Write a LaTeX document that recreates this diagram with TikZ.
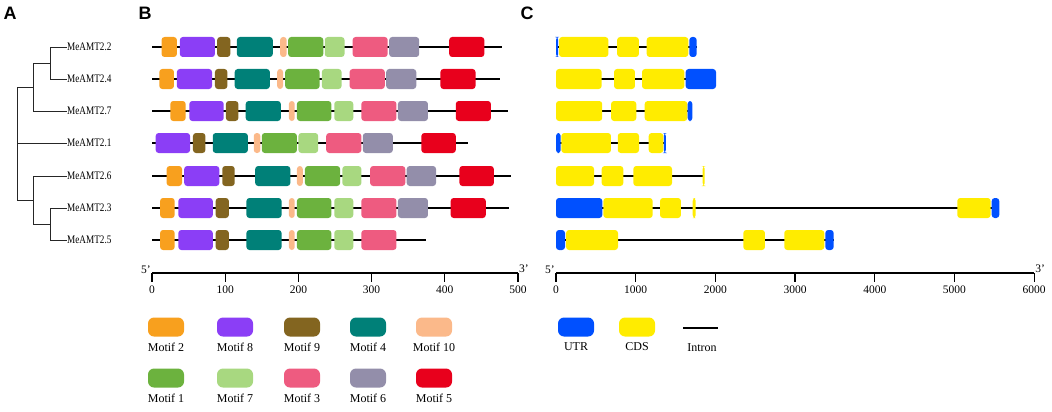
\documentclass[tikz,border=0pt]{standalone}
\usepackage{fontspec}
\setmainfont{Liberation Serif}
\setsansfont{Liberation Sans}
\usetikzlibrary{positioning}

\definecolor{mtwo}{HTML}{F8A01E}
\definecolor{meight}{HTML}{8B3EF6}
\definecolor{mnine}{HTML}{836520}
\definecolor{mfour}{HTML}{008078}
\definecolor{mten}{HTML}{FBB98A}
\definecolor{mone}{HTML}{6CB23E}
\definecolor{mseven}{HTML}{A8D880}
\definecolor{mthree}{HTML}{EE5B80}
\definecolor{msix}{HTML}{938EAA}
\definecolor{mfive}{HTML}{E8001C}
\definecolor{utr}{HTML}{0050FF}
\definecolor{cds}{HTML}{FFEC00}

% one row of boxes: y, list of start/end/colour
\newcommand{\boxrow}[2]{%
  \foreach \s/\e/\c in {#2}
    \fill[\c,rounded corners=3pt] (\s,#1-10) rectangle (\e,#1+10);}
% narrow gene names
\newcommand{\gname}[1]{\scalebox{0.8}[1]{#1}}

\begin{document}
\begin{tikzpicture}
  [x=1pt,y=-1pt,
   gene/.style={anchor=west,inner sep=0pt,font=\fontsize{11.5}{13}\selectfont},
   branch/.style={draw=black!85,line width=0.9pt},
   backbone/.style={line width=1.6pt},
   legbox/.style={minimum width=36pt,minimum height=19pt,rounded corners=6pt,inner sep=0pt},
   leglabel/.style={font=\fontsize{12}{14}\selectfont,inner sep=1pt},
   tick/.style={font=\fontsize{11.5}{13}\selectfont,inner sep=1pt},
   panel/.style={font=\sffamily\bfseries\fontsize{18}{20}\selectfont,inner sep=0pt}]
  \useasboundingbox (0,0) rectangle (1052,412);

  \node[panel] (A) at (10,13) {A};
  \node[panel] (B) at (145,13) {B};
  \node[panel] (C) at (527,13) {C};

  % tree
  \node[gene] (g22) at (67,47)  {\gname{MeAMT2.2}};
  \node[gene] (g24) at (67,79)  {\gname{MeAMT2.4}};
  \node[gene] (g27) at (67,111) {\gname{MeAMT2.7}};
  \node[gene] (g21) at (67,143) {\gname{MeAMT2.1}};
  \node[gene] (g26) at (67,176) {\gname{MeAMT2.6}};
  \node[gene] (g23) at (67,208) {\gname{MeAMT2.3}};
  \node[gene] (g25) at (67,240) {\gname{MeAMT2.5}};

  \coordinate (n1) at (50,63);
  \coordinate (n2) at (33,87);
  \coordinate (n3) at (50,224);
  \coordinate (n4) at (33,200);
  \coordinate (root) at (17,143);

  \foreach \from/\to in {n1/g22.west,n1/g24.west,n2/n1,n2/g27.west,root/n2,root/g21.west,
                         root/n4,n4/g26.west,n4/n3,n3/g23.west,n3/g25.west}
    \draw[branch] (\from) |- (\to);

  % motifs
  \begin{scope}[shift={(152,0)},x=0.732pt]
    \foreach \y/\len in {47/478,79/475,111/487,143/432,176/491,208/488,240/374}
      \draw[backbone] (0,\y) -- (\len,\y);
    \boxrow{47}{13/34/mtwo,38/86/meight,89/107/mnine,116/165/mfour,175/184/mten,186/234/mone,236/263/mseven,274/322/mthree,324/365/msix,406/454/mfive}
    \boxrow{79}{10/30/mtwo,34/82/meight,86/103/mnine,113/161/mfour,171/179/mten,182/229/mone,232/259/mseven,270/318/mthree,320/361/msix,394/442/mfive}
    \boxrow{111}{25/46/mtwo,51/98/meight,101/118/mnine,128/176/mfour,187/195/mten,198/245/mone,249/275/mseven,286/334/mthree,336/377/msix,415/463/mfive}
    \boxrow{143}{5/52/meight,56/73/mnine,83/131/mfour,139/148/mten,150/198/mone,200/227/mseven,238/286/mthree,288/329/msix,368/415/mfive}
    \boxrow{176}{20/41/mtwo,44/92/meight,96/113/mnine,141/189/mfour,198/206/mten,209/257/mone,260/286/mseven,298/346/mthree,348/388/msix,420/467/mfive}
    \boxrow{208}{11/31/mtwo,36/83/meight,87/105/mnine,129/177/mfour,187/195/mten,198/245/mone,249/275/mseven,286/334/mthree,336/377/msix,408/456/mfive}
    \boxrow{240}{11/31/mtwo,36/83/meight,87/105/mnine,129/177/mfour,187/195/mten,198/245/mone,249/275/mseven,286/334/mthree}

    \draw[line width=1.3pt] (0,273) -- (500,273);
    \foreach \t in {0,100,...,500}
      \draw[line width=1.3pt] (\t,273) -- (\t,282) node[tick,below=2pt] {\t};
    \node[tick,anchor=south east] (p5) at (0,275) {5'};
    \node[tick,anchor=south west] (p3) at (500,274) {3'};
  \end{scope}

  % gene structure
  \begin{scope}[shift={(556,0)},x=0.0797pt]
    \foreach \y/\len in {47/1765,79/2008,111/1710,143/1375,176/1862,208/5562,240/3484}
      \draw[backbone] (0,\y) -- (\len,\y);
    \boxrow{47}{0/28/utr,38/657/cds,767/1040/cds,1138/1660/cds,1673/1765/utr}
    \boxrow{79}{0/573/cds,728/991/cds,1079/1610/cds,1627/2008/utr}
    \boxrow{111}{0/580/cds,691/1008/cds,1113/1648/cds,1652/1712/utr}
    \boxrow{143}{0/59/utr,67/690/cds,775/1042/cds,1163/1347/cds,1352/1378/utr}
    \boxrow{176}{0/477/cds,573/845/cds,970/1456/cds,1840/1866/cds}
    \boxrow{208}{0/581/utr,594/1213/cds,1305/1568/cds,1715/1753/cds,5035/5454/cds,5467/5562/utr}
    \boxrow{240}{0/113/utr,126/778/cds,2350/2622/cds,2864/3366/cds,3379/3484/utr}

    \draw[line width=1.3pt] (0,273) -- (6000,273);
    \foreach \t in {0,1000,...,6000}
      \draw[line width=1.3pt] (\t,273) -- (\t,282) node[tick,below=2pt] {\t};
    \node[tick,anchor=south east] (q5) at (0,275) {5'};
    \node[tick,anchor=south west] (q3) at (6000,274) {3'};
  \end{scope}

  % legends
  \foreach \x/\c/\n in {166/mtwo/2,235/meight/8,302/mnine/9,368/mfour/4,434/mten/10}{
    \node[legbox,fill=\c] (m\n) at (\x,327) {};
    \node[leglabel,below=5pt of m\n] {Motif \n};
  }
  \foreach \x/\c/\n in {166/mone/1,235/mseven/7,302/mthree/3,368/msix/6,434/mfive/5}{
    \node[legbox,fill=\c] (m\n) at (\x,378) {};
    \node[leglabel,below=5pt of m\n] {Motif \n};
  }

  \node[legbox,fill=utr] (lutr) at (576,327) {};
  \node[leglabel,below=5pt of lutr] {UTR};
  \node[legbox,fill=cds] (lcds) at (637,327) {};
  \node[leglabel,below=5pt of lcds] {CDS};
  \coordinate (ia) at (683,328);
  \coordinate (ib) at (718,328);
  \draw[line width=1.6pt] (ia) -- (ib);
  \node[leglabel] (lint) at (702,348) {Intron};
\end{tikzpicture}
\end{document}
